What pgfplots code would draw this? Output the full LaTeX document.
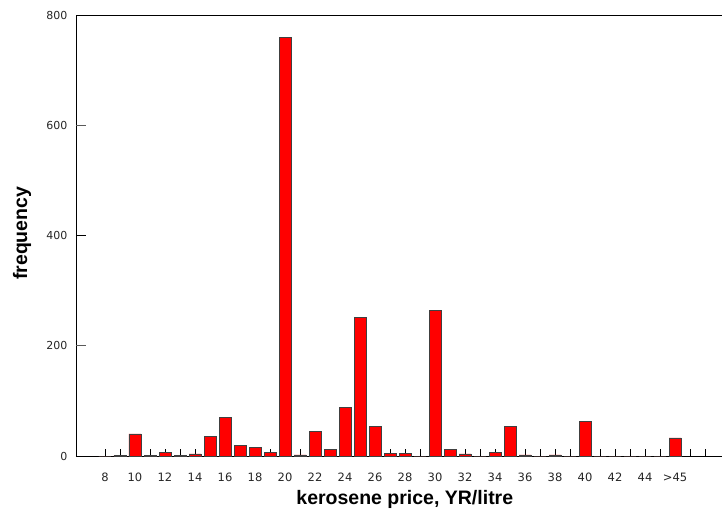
\documentclass[border=0pt]{standalone}
\usepackage{pgfplots}
\pgfplotsset{compat=1.18}
\usepackage{fontspec}
\setmainfont{DejaVu Sans}
\newfontfamily\labfont{Liberation Sans}
\pgfplotstableread{
x y
8 0
9 1
10 40
11 1
12 7
13 1
14 4
15 35
16 70
17 19
18 16
19 7
20 760
21 2
22 44
23 12
24 88
25 252
26 54
27 5
28 5
29 0
30 264
31 12
32 4
33 0
34 7
35 53
36 2
37 0
38 2
39 0
40 63
41 0
42 0
43 0
44 0
45 0
46 33
}\freq
\begin{document}
\begin{tikzpicture}
\begin{axis}[
  at={(0,0)}, anchor=south west,
  scale only axis, width=646pt, height=441pt,
  xmin=6.067, xmax=49.13, ymin=0, ymax=800,
  axis x line*=bottom, axis y line*=left,
  axis line style={black, line width=0.8pt},
  xtick={8,...,48},
  xticklabels={8,,10,,12,,14,,16,,18,,20,,22,,24,,26,,28,,30,,32,,34,,36,,38,,40,,42,,44,,{>45},,},
  ytick={0,200,400,600,800},
  tick align=inside,
  major tick length=7pt,
  xtick style={black, line width=0.7pt},
  ytick style={draw=none},
  ticklabel style={font=\fontsize{11.5}{13}\selectfont, text=black!85},
  xticklabel style={anchor=base, yshift=-25pt},
  yticklabel style={xshift=-5pt, font=\fontsize{11}{13}\selectfont},
  /pgf/number format/assume math mode=true,
  xlabel={\labfont\bfseries kerosene price, YR/litre},
  ylabel={\labfont\bfseries frequency},
  label style={font=\fontsize{19.5}{22}\selectfont},
  xlabel style={at={(axis description cs:0.509,-0.111)}, anchor=base},
  ylabel style={at={(axis description cs:-0.0836,0.505)}, anchor=center, rotate=0},
  clip=false,
]
\addplot[ybar, bar width=12pt, fill=red, draw=black!75, line width=0.6pt] table[x=x, y=y] {\freq};
\end{axis}
\draw[black, line width=0.8pt] (0pt,441pt) -- (646pt,441pt);
\draw[black!65, line width=1.2pt] (0pt,110.25pt) -- (10pt,110.25pt);
\draw[black, line width=0.8pt] (0pt,220.5pt) -- (10pt,220.5pt);
\draw[black!65, line width=1.2pt] (0pt,330.75pt) -- (10pt,330.75pt);
\pgfresetboundingbox
\useasboundingbox (-76pt,-56pt) rectangle (646pt,456pt);
\end{tikzpicture}
\end{document}
